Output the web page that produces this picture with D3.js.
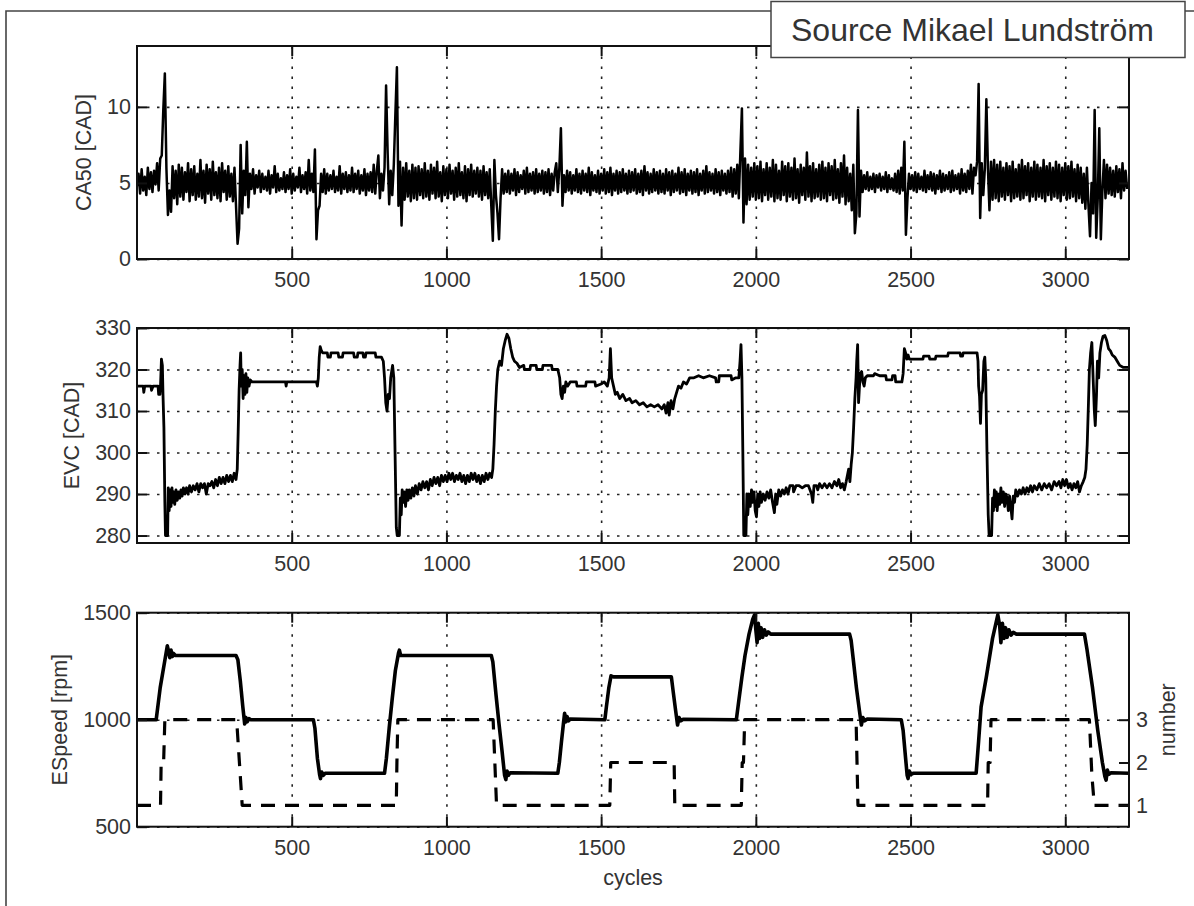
<!DOCTYPE html>
<html>
<head>
<meta charset="utf-8">
<script src="https://cdn.jsdelivr.net/npm/d3@7"></script>
<style>
  html, body { margin: 0; padding: 0; background: #fff; }
  svg { display: block; font-family: "Liberation Sans", Arial, Helvetica, sans-serif; }
  .grid path { display: none; }
  .grid line { stroke: #222; stroke-width: 1.6; stroke-dasharray: 2.5 7.5; }
  .ax path { display: none; }
  .ax line { stroke: #111; stroke-width: 2; }
  .ax text { fill: #333; font-size: 21.5px; }
  .lbl { fill: #333; font-size: 21.5px; }
</style>
</head>
<body>
<svg id="chart" width="1194" height="906"></svg>
<script>
// ---- tick labels ----
const xTicks = [500, 1000, 1500, 2000, 2500, 3000];
const ca50Ticks = [0, 5, 10];
const evcTicks = [280, 290, 300, 310, 320, 330];
const speedTicks = [500, 1000, 1500];
const numberTicks = [1, 2, 3];

// ---- CA50 [CAD], one sample every 5 cycles starting at cycle 0 ----
const ca50Step = 5;
const ca50 = [
  4.8,5.6,4.3,5.9,4.5,5.4,4.2,6.0,4.6,5.7,4.4,5.8,4.9,6.3,4.5,6.6,6.8,9.8,12.2,6.0,
  2.9,4.5,3.1,6.1,4.0,5.8,3.6,6.2,4.1,6.0,3.9,5.7,4.4,6.3,3.8,5.9,4.2,6.1,3.9,5.6,
  4.1,6.5,4.0,5.8,3.7,6.2,4.3,5.9,3.9,6.4,4.2,5.7,4.0,6.0,3.8,6.3,4.4,5.8,3.9,6.1,
  4.1,5.6,3.8,6.0,3.5,1.0,2.0,7.5,3.0,5.8,4.2,7.7,3.4,5.6,4.6,5.9,4.3,5.5,4.7,5.8,
  4.4,5.6,4.6,5.4,4.5,5.8,4.3,5.5,4.7,6.1,4.4,5.6,4.5,5.3,4.6,5.7,4.4,5.5,4.6,5.9,
  4.3,5.6,4.5,5.4,4.7,6.0,4.4,5.5,4.6,5.7,4.3,6.5,4.5,5.6,4.4,7.2,1.3,3.2,3.5,5.6,
  4.4,5.9,4.3,5.6,4.5,5.5,4.6,5.8,4.4,5.4,4.5,6.1,4.3,5.6,4.6,5.7,4.4,5.5,4.5,6.0,
  4.4,5.6,4.6,5.8,4.3,5.5,4.5,5.9,4.2,5.6,4.5,5.7,4.4,6.2,4.3,5.8,6.8,4.0,5.6,4.5,
  6.0,11.4,7.0,3.6,5.8,4.2,6.2,9.5,12.6,3.5,6.4,2.2,6.0,3.9,6.3,4.1,5.8,3.8,6.2,4.0,
  6.0,3.9,6.1,4.2,5.9,4.0,6.3,4.1,5.8,3.9,6.2,4.3,6.0,4.0,6.4,4.1,5.7,3.8,6.1,4.2,
  5.9,4.0,6.2,4.3,5.8,3.9,6.0,4.1,6.3,4.2,5.7,4.0,6.1,3.8,5.9,4.2,6.2,4.1,5.8,4.3,
  6.0,4.1,5.8,3.9,6.1,4.2,5.7,4.0,5.9,3.5,1.2,6.5,4.2,3.0,1.3,4.0,5.9,4.3,5.6,4.4,
  5.8,4.3,5.6,4.5,5.9,4.2,5.7,4.4,5.5,4.6,5.8,4.3,6.0,4.4,5.6,4.5,5.7,4.3,5.9,4.4,
  5.6,4.5,5.8,4.3,5.7,4.4,5.9,4.2,5.6,4.5,5.7,6.3,4.4,6.0,8.6,3.5,5.5,4.4,5.8,4.5,
  5.7,4.3,5.5,4.5,5.9,4.4,5.6,4.3,5.8,4.5,5.6,4.4,6.0,4.2,5.7,4.5,5.5,4.4,5.8,4.3,
  5.6,4.5,5.9,4.3,5.7,4.4,6.0,4.2,5.6,4.5,5.8,4.3,5.7,4.4,5.9,4.5,5.6,4.3,5.8,4.4,
  5.7,4.5,5.9,4.3,5.6,4.4,5.8,4.2,6.1,4.5,5.7,4.3,5.6,4.4,5.9,4.5,5.7,4.3,5.8,4.4,
  5.6,4.3,5.9,4.5,5.7,4.2,5.8,4.4,5.6,4.5,6.0,4.3,5.7,4.4,5.9,4.2,5.6,4.5,5.8,4.3,
  5.7,4.4,5.9,4.2,5.6,4.5,5.8,4.3,6.1,4.4,5.7,4.5,5.6,4.3,5.9,4.4,5.7,4.2,5.8,4.5,
  5.6,4.3,5.8,4.4,6.0,4.1,5.9,4.3,6.2,4.0,7.0,9.9,2.4,6.6,3.6,6.2,3.9,6.0,4.1,6.3,
  3.9,6.1,4.0,6.4,3.8,5.9,4.2,6.3,3.9,6.0,4.1,6.5,3.8,6.2,4.0,5.8,3.9,6.4,4.2,6.1,
  3.8,6.3,4.1,6.0,3.9,6.6,4.0,5.9,3.7,6.2,4.2,6.0,3.9,7.0,4.1,6.1,3.8,6.3,4.0,5.9,
  4.1,6.2,3.9,6.4,4.0,6.0,3.8,6.3,4.2,6.1,3.9,6.5,4.0,5.9,3.7,6.3,4.1,6.8,3.6,6.0,
  3.8,5.6,3.2,6.2,1.7,3.0,9.8,2.8,5.8,4.4,5.5,4.6,5.7,4.5,5.4,4.6,5.6,4.4,5.5,4.7,
  5.6,4.5,5.4,4.6,5.7,4.4,5.5,4.6,5.3,4.5,5.6,4.4,5.8,4.3,6.0,4.5,7.7,1.6,4.0,5.6,
  4.6,5.5,4.5,5.7,4.4,5.6,4.6,5.4,4.5,5.8,4.4,5.5,4.6,5.7,4.5,5.6,4.3,5.5,4.6,5.8,
  4.4,5.6,4.5,5.5,4.6,5.7,4.4,5.8,4.5,5.5,4.6,5.6,4.3,5.9,4.5,5.6,4.4,5.8,4.6,6.2,
  4.3,6.0,5.5,6.4,11.5,2.7,6.3,4.2,5.9,10.5,6.0,3.2,6.4,3.9,6.5,4.0,6.2,3.8,6.4,4.1,
  6.0,3.9,6.3,4.2,6.1,3.8,6.4,4.0,5.9,4.1,6.2,3.9,6.5,4.0,6.1,4.2,6.3,3.8,6.0,4.1,
  6.4,3.9,6.2,4.1,6.0,4.0,6.5,3.8,6.1,4.2,6.3,3.9,6.0,4.1,6.4,4.0,6.2,3.8,6.0,4.2,
  6.3,3.9,6.1,4.0,6.4,4.1,5.9,3.8,6.2,4.0,6.0,3.7,5.6,3.3,6.0,3.5,1.5,5.0,3.0,9.8,
  1.4,4.0,8.6,1.3,4.5,6.5,4.0,6.2,4.3,6.0,4.2,5.8,4.1,6.1,4.4,5.9,4.0,6.3,4.5,5.8,
  4.6
];

// ---- EVC [CAD]: [cycle, value] ----
const evc = [
  [0,316],[20,316],[22,314.5],[25,316],[45,316],[47,315],[52,316],[68,316],[70,314],[74,314],[76,316],
  [79,322.5],[82,321],[84,314],[87,306],[90,288],[92,280],[99,280],[101,291.5],[104,286],[107,291],
  [110,287],[113,291.5],[116,288],[119,290.5],[122,287.5],[126,291],[130,288.5],[134,290.5],[138,289],
  [142,291],[146,289.5],[150,291.5],[155,290],[160,291.5],[165,290],[170,292],[176,290.5],[182,292],
  [188,291],[194,292.5],[200,290.5],[206,292.5],[212,291.5],[218,292.5],[224,290],[230,292.5],[236,292],
  [242,293],[248,291.5],[254,293.5],[260,292],[266,294],[272,292.5],[278,294],[284,292.5],[290,294.5],
  [296,293],[302,294.5],[308,293],[314,295],[320,293.5],[324,296],[327,305],[330,315],[333,321],[335,324],
  [337,316],[340,320],[343,313],[346,318.5],[349,314],[352,319],[355,314.5],[358,318],[362,316],[366,317.5],
  [372,317],[480,317],[482,316],[484,317],[580,317],[583,316],[586,318],[589,323],[592,325.5],[596,324.5],
  [600,324],[615,324],[617,323],[625,323],[627,324],[650,324],[652,323],[664,323],[666,324],[700,324],
  [702,323],[712,323],[714,324],[730,324],[732,323],[738,323],[740,324],[770,324],[772,323],[790,323],
  [796,322],[800,318],[804,312],[808,310],[812,314],[816,313],[820,318],[826,321],[830,318],[834,300],
  [838,282],[841,280],[848,280],[851,289],[854,285],[857,291],[860,288],[864,290.5],[868,287],[872,291],
  [876,288.5],[880,291],[885,289],[890,291.5],[895,289.5],[900,292],[906,290],[912,292.5],[918,291],
  [924,293],[930,291.5],[936,293],[942,291],[948,293.5],[954,292],[960,294],[966,292.5],[972,294],
  [978,292],[984,294.5],[990,293],[996,294.5],[1002,293],[1008,295],[1014,293.5],[1020,295],[1026,293],
  [1032,294.5],[1038,293.5],[1044,295],[1050,293],[1056,294.5],[1062,292.5],[1068,294.5],[1074,293],
  [1080,295],[1086,293.5],[1092,295],[1098,293],[1104,294.5],[1110,292.5],[1116,294.5],[1122,293],
  [1128,295],[1134,293.5],[1140,295],[1146,294],[1150,296],[1154,302],[1158,310],[1162,316],[1166,320],
  [1172,322],[1178,321],[1184,325],[1190,327],[1196,328.5],[1202,327.5],[1208,325],[1214,323],[1220,322],
  [1228,321.5],[1236,320.5],[1250,321],[1252,320],[1270,320],[1272,321],[1290,321],[1292,320],[1310,320],
  [1312,321],[1340,321],[1342,320],[1360,320],[1366,318],[1370,314],[1374,313],[1378,316],[1382,314.5],
  [1386,317],[1392,316],[1400,317],[1420,317],[1422,316],[1450,316],[1452,317],[1480,317],[1482,316],
  [1500,316.5],[1510,317],[1520,316],[1526,318],[1530,325],[1534,318],[1540,316],[1546,314],[1552,314.5],
  [1560,313],[1570,314],[1580,312.5],[1592,313],[1600,312],[1612,312.5],[1624,311.5],[1636,312],
  [1648,311],[1660,311.5],[1672,311],[1684,311.5],[1696,310.5],[1704,311.5],[1710,309.5],[1716,312],
  [1720,309],[1726,312.5],[1732,310.5],[1738,313],[1744,314.5],[1750,316],[1758,315.5],[1766,317],
  [1776,316.5],[1786,318],[1800,318],[1815,318.5],[1830,318],[1850,318.5],[1870,318],[1872,317],
  [1880,317],[1882,318.5],[1920,318.5],[1922,317.5],[1935,318],[1945,318],[1949,322],[1952,326],
  [1955,318],[1958,300],[1961,280],[1968,280],[1971,290],[1974,285],[1978,290],[1982,287],[1986,291],
  [1990,288],[1994,290.5],[1998,286],[2002,284.5],[2006,290],[2010,287],[2014,290.5],[2018,288],
  [2024,290],[2030,288.5],[2036,290.5],[2042,289],[2048,291],[2054,288],[2060,285.5],[2064,290],
  [2068,287.5],[2074,291],[2080,289.5],[2086,291],[2092,290],[2098,291.5],[2104,290],[2110,292],
  [2120,292],[2122,290.5],[2130,292],[2140,292],[2150,291.5],[2160,292],[2170,292],[2180,290],[2184,288],
  [2188,292],[2196,292],[2200,291],[2206,292.5],[2214,291.5],[2222,292.5],[2230,291.5],[2238,292.5],
  [2246,291.5],[2254,293],[2262,292],[2268,293.5],[2274,291.5],[2280,292.5],[2286,291],[2292,293],
  [2296,294.5],[2300,296],[2304,293],[2308,297],[2312,300],[2316,306],[2320,313],[2324,318],[2326,322],
  [2329,326],[2332,312],[2335,316],[2338,319],[2342,319.5],[2346,317],[2350,316],[2354,318],[2360,318.5],
  [2380,318.5],[2384,319],[2400,318.5],[2420,318.5],[2422,317.5],[2440,317.5],[2442,318.5],[2450,318.5],
  [2452,317],[2472,317],[2476,319],[2480,325],[2484,324],[2488,322.5],[2492,323.5],[2496,322.5],
  [2540,322.5],[2542,323.2],[2560,323.2],[2562,322.5],[2580,322.5],[2582,323.2],[2620,323.2],[2622,324],
  [2660,324],[2662,323.2],[2668,323.2],[2670,324],[2715,324],[2718,322],[2720,316],[2723,313.5],
  [2726,307],[2729,314],[2733,315],[2737,322],[2740,323],[2743,318],[2747,300],[2751,285],[2754,280],
  [2762,280],[2765,289],[2768,286],[2771,291],[2774,287],[2777,290.5],[2780,286],[2784,290],[2788,287.5],
  [2792,291.5],[2796,288],[2800,290.5],[2804,287],[2808,290],[2812,289],[2816,286],[2820,289.5],
  [2824,287],[2828,284],[2832,289.5],[2836,288],[2840,291],[2846,289.5],[2852,291],[2858,290],
  [2864,291.5],[2870,290],[2876,291.5],[2882,290.5],[2888,292],[2894,290.5],[2900,292],[2908,291],
  [2916,292.5],[2924,291],[2932,292.5],[2940,291.5],[2948,292.5],[2956,291],[2964,293],[2972,292],
  [2980,293],[2986,291.5],[2992,293.5],[2998,292],[3004,293.5],[3010,291.5],[3016,292.5],[3022,291],
  [3028,292.5],[3034,291.5],[3040,293],[3046,290.5],[3052,292],[3058,293],[3063,294],[3067,296],
  [3071,302],[3075,312],[3078,320],[3082,324],[3086,326.5],[3090,318],[3094,310],[3097,306.5],
  [3101,314],[3104,322],[3108,318],[3112,324],[3117,326.5],[3122,328],[3128,328.2],[3134,327],
  [3140,325],[3146,324.5],[3152,323.5],[3160,323],[3168,322],[3176,321],[3188,320.5],[3206,320.5]
];

// ---- ESpeed [rpm]: [cycle, value] ----
const espeed = [
  [0,1000],[62,1000],[75,1150],[88,1260],[98,1345],[102,1320],[106,1290],[110,1325],[114,1295],
  [118,1310],[124,1300],[320,1300],[326,1280],[334,1180],[342,1060],[348,980],[352,1010],[356,990],
  [362,1005],[368,1000],[570,1000],[575,960],[583,820],[590,745],[593,725],[597,755],[602,740],
  [608,750],[800,750],[806,820],[815,960],[825,1100],[835,1230],[845,1310],[848,1325],[852,1300],
  [1145,1300],[1150,1270],[1160,1120],[1170,980],[1180,850],[1188,740],[1192,720],[1196,760],
  [1200,740],[1206,752],[1360,750],[1365,800],[1372,900],[1378,980],[1382,1030],[1386,990],
  [1390,1015],[1395,995],[1400,1003],[1512,1000],[1517,1060],[1525,1150],[1532,1205],[1540,1200],
  [1727,1200],[1733,1130],[1741,1040],[1747,975],[1752,1010],[1758,995],[1765,1002],[1937,1000],
  [1945,1090],[1955,1200],[1965,1300],[1978,1400],[1990,1470],[1996,1490],[2000,1420],[2004,1360],
  [2008,1450],[2012,1380],[2017,1430],[2022,1385],[2028,1420],[2034,1395],[2040,1410],[2048,1400],
  [2303,1400],[2308,1370],[2315,1280],[2325,1150],[2335,1040],[2341,975],[2346,1010],[2352,995],
  [2360,1003],[2470,1000],[2476,950],[2484,820],[2489,740],[2492,725],[2496,760],[2502,745],
  [2510,750],[2712,750],[2720,900],[2728,1060],[2745,1200],[2765,1380],[2782,1490],[2788,1440],
  [2792,1360],[2797,1450],[2802,1380],[2807,1430],[2812,1385],[2818,1420],[2825,1395],[2832,1408],
  [2842,1400],[3062,1400],[3070,1330],[3088,1150],[3105,950],[3120,800],[3128,735],[3132,718],
  [3136,765],[3141,745],[3148,752],[3206,750]
];

// ---- number (right axis): [cycle, value] ----
const numberSeries = [
  [0,1],[76,1],[78,2],[86,2],[90,3],[322,3],[340,1],[838,1],[840,2],[843,3],[1151,3],[1162,1],
  [1528,1],[1531,2],[1736,2],[1738,1],[1953,1],[1956,2],[1960,2],[1964,3],[2324,3],[2330,1],
  [2749,1],[2751,2],[2757,2],[2760,3],[3078,3],[3086,1.7],[3094,1],[3206,1]
];

// ---- layout ----
const svg = d3.select("#chart");
svg.append("rect").attr("width", 1194).attr("height", 906).attr("fill", "#fff");

const X0 = 137, X1 = 1129;
const x = d3.scaleLinear().domain([0, 3206]).range([X0, X1]);
const TICK = 10;
const intFmt = d3.format("d");

// outer figure frame
svg.append("path").attr("d", "M6,906V11H1194")
  .attr("fill", "none").attr("stroke", "#444").attr("stroke-width", 1.6);

let clipId = 0;
function makePanel(top, bottom, yDomain, yTicks, label, labelX, opts = {}) {
  const y = d3.scaleLinear().domain(yDomain).range([bottom, top]);
  const g = svg.append("g");
  const h = bottom - top, w = X1 - X0;

  // dotted grid
  g.append("g").attr("class", "grid").attr("transform", `translate(0,${bottom})`)
    .call(d3.axisBottom(x).tickValues(xTicks).tickSize(-h).tickFormat(""));
  g.append("g").attr("class", "grid").attr("transform", `translate(${X0},0)`)
    .call(d3.axisLeft(y).tickValues(yTicks).tickSize(-w).tickFormat(""));

  // data lines, clipped to the axes box
  const id = "clip" + (clipId++);
  g.append("clipPath").attr("id", id).append("rect")
    .attr("x", X0).attr("y", top).attr("width", w).attr("height", h);
  const plot = g.append("g").attr("clip-path", `url(#${id})`);

  // inward ticks on all four sides
  g.append("g").attr("class", "ax").attr("transform", `translate(0,${bottom})`)
    .call(d3.axisBottom(x).tickValues(xTicks).tickFormat(intFmt)
      .tickSizeInner(-TICK).tickSizeOuter(0).tickPadding(13));
  g.append("g").attr("class", "ax").attr("transform", `translate(0,${top})`)
    .call(d3.axisTop(x).tickValues(xTicks).tickSizeInner(-TICK).tickSizeOuter(0).tickFormat(""));
  g.append("g").attr("class", "ax").attr("transform", `translate(${X0},0)`)
    .call(d3.axisLeft(y).tickValues(yTicks).tickFormat(intFmt)
      .tickSizeInner(-TICK).tickSizeOuter(0).tickPadding(6));
  if (!opts.noRightTicks) {
    g.append("g").attr("class", "ax").attr("transform", `translate(${X1},0)`)
      .call(d3.axisRight(y).tickValues(yTicks).tickSizeInner(-TICK).tickSizeOuter(0).tickFormat(""));
  }

  // box
  g.append("rect").attr("x", X0).attr("y", top).attr("width", w).attr("height", h)
    .attr("fill", "none").attr("stroke", "#111").attr("stroke-width", 2);

  // y label
  g.append("text").attr("class", "lbl")
    .attr("transform", `translate(${labelX},${(top + bottom) / 2}) rotate(-90)`)
    .attr("text-anchor", "middle").text(label);

  return { y, plot, g, top, bottom };
}

function drawLine(target, data, y, width, dash) {
  const line = d3.line().x(d => x(d[0])).y(d => y(d[1]));
  const p = target.append("path").datum(data).attr("d", line)
    .attr("fill", "none").attr("stroke", "#000").attr("stroke-width", width)
    .attr("stroke-linejoin", "round");
  if (dash) p.attr("stroke-dasharray", dash);
  return p;
}

// Panel 1: CA50
const p1 = makePanel(46, 259, [0, 14], ca50Ticks, "CA50 [CAD]", 91);
drawLine(p1.plot, ca50.map((v, i) => [i * ca50Step, v]), p1.y, 2.5);

// Panel 2: EVC
const p2 = makePanel(328, 543, [278.2, 330], evcTicks, "EVC [CAD]", 79);
drawLine(p2.plot, evc, p2.y, 2.8);

// Panel 3: engine speed with number on a second y axis
const p3 = makePanel(612.7, 826.7, [500, 1500], speedTicks, "ESpeed [rpm]", 67, { noRightTicks: true });
const yNum = d3.scaleLinear().domain([0.5, 5.5]).range([826.7, 612.7]);
drawLine(p3.plot, numberSeries, yNum, 3.2, "14 10");
drawLine(p3.plot, espeed, p3.y, 3.6);
p3.g.append("g").attr("class", "ax").attr("transform", `translate(${X1},0)`)
  .call(d3.axisRight(yNum).tickValues(numberTicks).tickFormat(intFmt)
    .tickSizeInner(-TICK).tickSizeOuter(0).tickPadding(7));
p3.g.append("text").attr("class", "lbl")
  .attr("transform", `translate(1175,${(612.7 + 826.7) / 2}) rotate(-90)`)
  .attr("text-anchor", "middle").text("number");

// x label
svg.append("text").attr("class", "lbl").attr("x", (X0 + X1) / 2).attr("y", 885)
  .attr("text-anchor", "middle").text("cycles");

// source box
svg.append("rect").attr("x", 771).attr("y", 1.5).attr("width", 414).attr("height", 56)
  .attr("fill", "#fff").attr("stroke", "#444").attr("stroke-width", 1.5);
svg.append("text").attr("x", 791).attr("y", 41).attr("fill", "#333")
  .attr("font-size", 32).text("Source Mikael Lundström");
</script>
</body>
</html>
